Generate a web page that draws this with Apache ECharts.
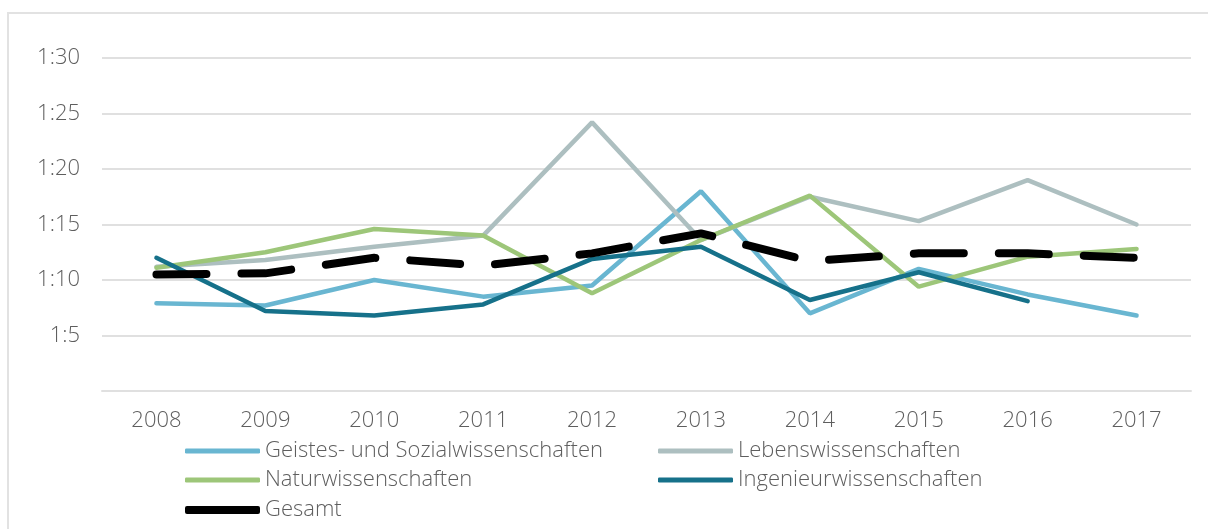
<!DOCTYPE html>
<html>
<head>
	<meta charset="utf-8">
	<title>Betreuungsrelation</title>
	<script src="https://cdn.jsdelivr.net/npm/echarts@6/dist/echarts.min.js"></script>
	<style type="text/css">
		* {
			padding: 0;
			margin: 0;
		}
		body {
			background: #fff;
		}
		#frame {
			position: absolute;
			left: 7px;
			top: 12px;
			width: 1210px;
			height: 530px;
			border-left: 2px solid #e2e2e2;
			border-top: 2px solid #e2e2e2;
		}
		#main {
			position: absolute;
			left: 0;
			top: 0;
			width: 1208px;
			height: 529px;
		}
	</style>
</head>
<body>
	<div id="frame"></div>
	<div id="main"></div>
	<script type="text/javascript">
		var years = ['2008', '2009', '2010', '2011', '2012', '2013', '2014', '2015', '2016', '2017'];
		var geistes = [7.9, 7.7, 10.0, 8.5, 9.5, 18.0, 7.0, 11.0, 8.7, 6.8];
		var lebens = [11.2, 11.8, 13.0, 14.0, 24.2, 13.6, 17.5, 15.3, 19.0, 15.0];
		var natur = [11.1, 12.5, 14.6, 14.0, 8.8, 13.6, 17.6, 9.4, 12.1, 12.8];
		var ingenieur = [12.0, 7.2, 6.8, 7.8, 11.9, 13.0, 8.2, 10.7, 8.1, null];
		var gesamt = [10.5, 10.6, 12.0, 11.3, 12.4, 14.2, 11.7, 12.4, 12.4, 12.0];

		var names = ['Geistes- und Sozialwissenschaften', 'Lebenswissenschaften', 'Naturwissenschaften', 'Ingenieurwissenschaften', 'Gesamt'];
		var colors = ['#69b6d1', '#adbfc0', '#9dc679', '#16718a', '#000000'];

		var font = 'Open Sans';
		var textColor = '#5e5e5e';

		function line(i, data, width, dash) {
			return {
				name: names[i],
				type: 'line',
				data: data,
				symbol: 'none',
				z: i === 4 ? 5 : 2,
				lineStyle: {
					color: colors[i],
					width: width,
					type: dash || 'solid',
					cap: 'round'
				},
				itemStyle: { color: colors[i] }
			};
		}

		function legend(left, top, height, data) {
			return {
				orient: 'vertical',
				left: left,
				top: top,
				icon: 'roundRect',
				itemWidth: 75,
				itemHeight: height,
				itemGap: 7,
				data: data,
				textStyle: { fontFamily: font, fontSize: 22, color: textColor, fontWeight: 300, lineHeight: 22 }
			};
		}

		var option = {
			animation: false,
			backgroundColor: 'transparent',
			grid: {
				left: 102,
				right: 17,
				top: 58,
				bottom: 138
			},
			legend: [
				legend(180, 435, 5, [names[0], names[2]]),
				legend(653, 435, 5, [names[1], names[3]]),
				legend(180, 494, 8, [names[4]])
			],
			xAxis: {
				type: 'category',
				data: years,
				boundaryGap: true,
				axisLine: { show: true, lineStyle: { color: '#e0e0e0', width: 2 } },
				axisTick: { show: false },
				axisLabel: { fontFamily: font, fontSize: 22, color: textColor, fontWeight: 300, margin: 19 }
			},
			yAxis: {
				type: 'value',
				min: 0,
				max: 30,
				interval: 5,
				axisLine: { show: false },
				axisTick: { show: false },
				splitLine: { lineStyle: { color: '#e0e0e0', width: 2 } },
				axisLabel: {
					fontFamily: font, fontSize: 22, color: textColor, fontWeight: 300, margin: 22,
					formatter: function (v) { return v === 0 ? '' : '1:' + v; }
				}
			},
			series: [
				line(0, geistes, 4.5),
				line(1, lebens, 4.5),
				line(2, natur, 4.5),
				line(3, ingenieur, 4.5),
				line(4, gesamt, 8, [50, 35])
			]
		};

		var chart = echarts.init(document.getElementById('main'), null, { renderer: 'canvas' });
		chart.setOption(option);
	</script>
</body>
</html>
